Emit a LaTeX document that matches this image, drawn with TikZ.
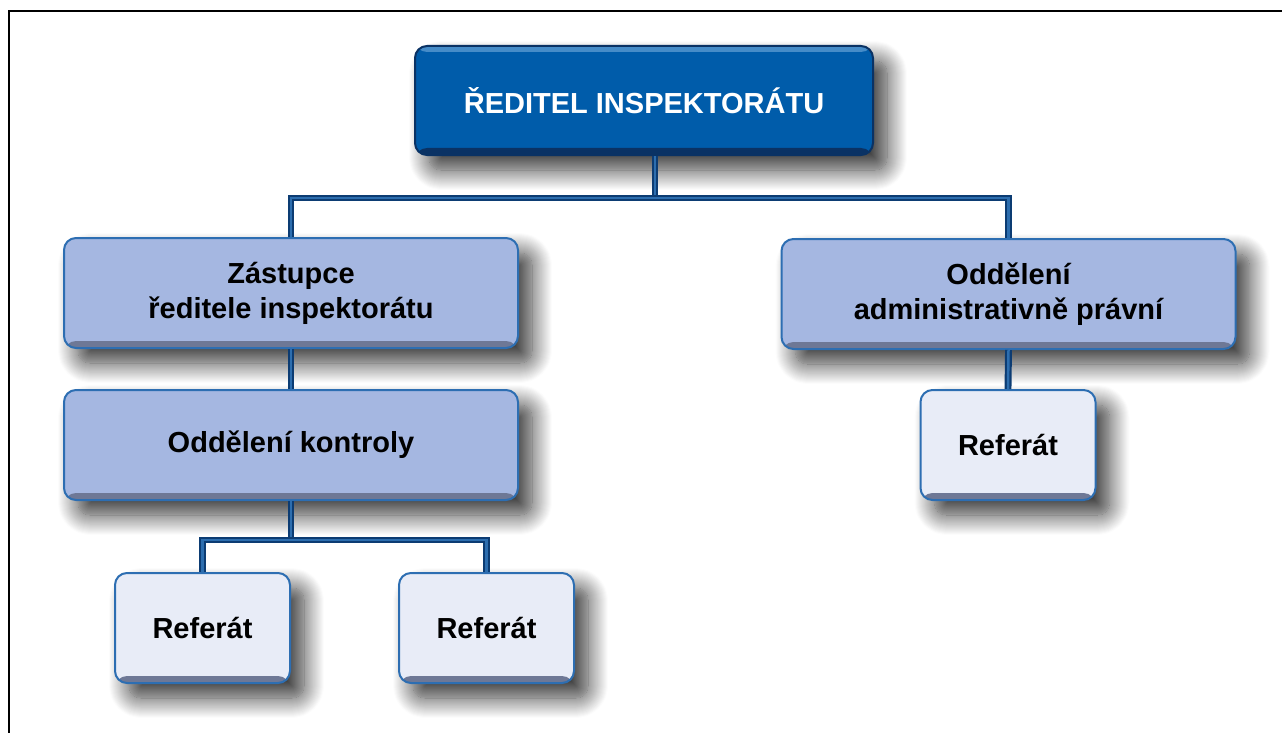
\documentclass[tikz,border=0pt]{standalone}
\usepackage{fontspec}
\setmainfont{Liberation Sans}
\usetikzlibrary{shadows.blur}
\definecolor{dirblue}{RGB}{0,92,170}
\definecolor{dirtop}{RGB}{70,140,200}
\definecolor{dirbot}{RGB}{10,50,100}
\definecolor{boxline}{RGB}{45,110,178}
\definecolor{boxfill}{RGB}{165,183,225}
\definecolor{reffill}{RGB}{232,236,247}
\definecolor{boxbot}{RGB}{110,120,150}
\definecolor{linedark}{RGB}{12,60,115}
\definecolor{linelight}{RGB}{45,110,175}

\begin{document}
\begin{tikzpicture}[x=1pt,y=-1pt,
    bevel/.style={path picture={
        \fill[#1] ([yshift=7pt]path picture bounding box.south west) rectangle (path picture bounding box.south east);}},
    orgbox/.style={draw=boxline, line width=2pt, rounded corners=12pt, fill=boxfill, bevel=boxbot,
        align=center, inner sep=0pt, font=\fontsize{29}{35}\selectfont\bfseries,
        blur shadow={shadow xshift=14pt, shadow yshift=-15pt, shadow blur radius=20pt, shadow blur steps=20, shadow opacity=80}},
    dirbox/.style={orgbox, draw=dirbot, fill=dirblue, text=white, minimum width=458pt, minimum height=109pt,
        path picture={
        \fill[dirtop] ([yshift=-6pt]path picture bounding box.north west) rectangle (path picture bounding box.north east);
        \fill[dirbot] ([yshift=7pt]path picture bounding box.south west) rectangle (path picture bounding box.south east);}},
    widebox/.style={orgbox, minimum width=454pt, minimum height=110pt},
    refbox/.style={orgbox, fill=reffill, minimum width=175pt, minimum height=110pt},
    conn/.style={draw=linedark, line width=2.2pt, double=linelight, double distance=2.5pt}]
    \useasboundingbox (0,0) rectangle (1282,733);
    \draw[line width=2.5pt] (9,733) -- (9,11) -- (1282,11);

    \node[dirbox] at (644,100.5) (dir) {ŘEDITEL INSPEKTORÁTU};
    \node[widebox] at (291,293) (zast) {Zástupce\\ředitele inspektorátu};
    \node[widebox] at (1008.5,294) (admin) {Oddělení\\administrativně právní};
    \node[widebox] at (291,445) (kontr) {Oddělení kontroly};
    \node[refbox] at (202.5,628) (ref1) {Referát};
    \node[refbox] at (486.5,628) (ref2) {Referát};
    \node[refbox] at (1008,445) (ref3) {Referát};

    \coordinate (bar) at (655,198);
    \coordinate (bar2) at (291,540);

    \draw[conn] (dir.south -| bar) -- (bar);
    \draw[conn] (zast.north) |- (bar) -| (admin.north);
    \draw[conn] (zast.south) -- (kontr.north);
    \draw[conn] (kontr.south) -- (bar2);
    \draw[conn] (ref1.north) |- (bar2) -| (ref2.north);
    \draw[conn] (admin.south) -- (ref3.north);
\end{tikzpicture}
\end{document}
